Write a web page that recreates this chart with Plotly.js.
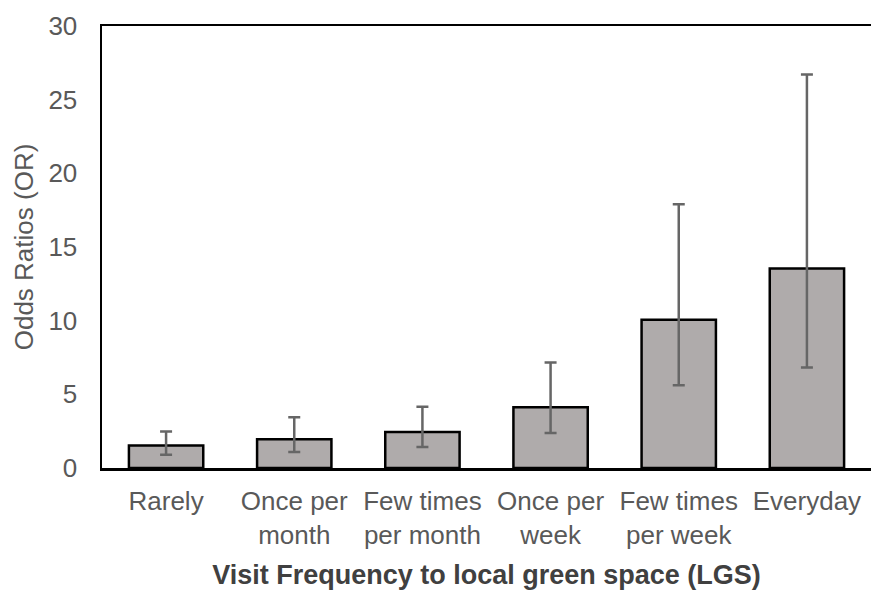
<!DOCTYPE html>
<html>
<head>
<meta charset="utf-8">
<script src="https://cdn.plot.ly/plotly-3.0.1.min.js"></script>
<style>html,body{margin:0;padding:0;background:#fff;}#chart{width:871px;height:590px;}</style>
</head>
<body>
<div id="chart"></div>
<script>
const categories = ["Rarely", "Once per<br>month", "Few times<br>per month", "Once per<br>week", "Few times<br>per week", "Everyday"];
const oddsRatios = [1.52, 1.95, 2.45, 4.13, 10.07, 13.54];
const ciUpper = [2.47, 3.45, 4.15, 7.16, 17.9, 26.7];
const ciLower = [0.9, 1.09, 1.43, 2.38, 5.62, 6.82];
const yTicks = [0, 5, 10, 15, 20, 25, 30];

const errPlus = oddsRatios.map((v, i) => ciUpper[i] - v);
const errMinus = oddsRatios.map((v, i) => v - ciLower[i]);

const trace = {
  type: "bar",
  x: categories,
  y: oddsRatios,
  width: 0.58,
  marker: { color: "#AFABAB", line: { color: "#000000", width: 2.5 } },
  error_y: {
    type: "data", symmetric: false, array: errPlus, arrayminus: errMinus,
    color: "#666666", thickness: 2.5, width: 6
  },
  hoverinfo: "none"
};

const layout = {
  width: 871, height: 590,
  margin: { l: 102, r: 0, t: 26, b: 122 },
  paper_bgcolor: "#ffffff", plot_bgcolor: "#ffffff",
  font: { family: "Liberation Sans, Arial, sans-serif", size: 27, color: "#595959" },
  showlegend: false,
  xaxis: {
    showline: true, linecolor: "#000000", linewidth: 2.5, mirror: true,
    showgrid: false, ticks: "", tickfont: { size: 26, color: "#595959" }, ticklabelstandoff: 8,
    title: { text: "Visit Frequency to local green space (LGS)", font: { size: 27, color: "#404040", family: "Liberation Sans, Arial, sans-serif", weight: "bold" }, standoff: 17 },
    automargin: false
  },
  yaxis: {
    range: [0, 30], tickvals: yTicks, showline: true, linecolor: "#000000", linewidth: 2.5,
    showgrid: false, zeroline: false, ticks: "", ticklabelstandoff: 17,
    tickfont: { size: 26, color: "#595959" },
    title: { text: "Odds Ratios (OR)", font: { size: 26, color: "#595959" }, standoff: 8 },
    automargin: false
  },
  bargap: 0.42
};

Plotly.newPlot("chart", [trace], layout, { displayModeBar: false, staticPlot: true });
</script>
</body>
</html>
